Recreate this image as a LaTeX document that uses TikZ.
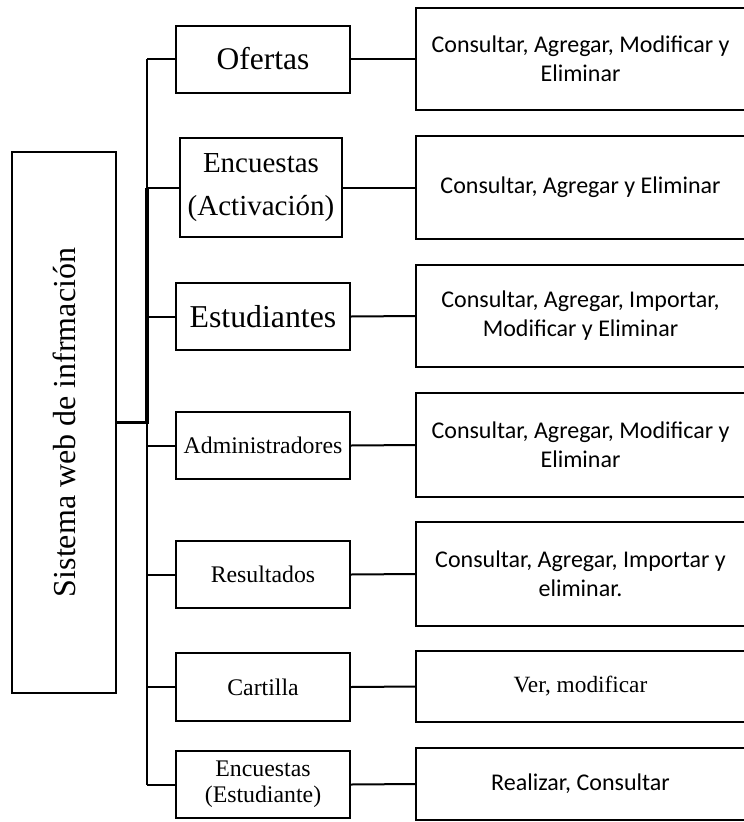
\documentclass[tikz,border=0pt]{standalone}
\usepackage{fontspec}
\setmainfont{Liberation Serif}
\newfontfamily\calibri{Carlito}
\usepackage{graphicx}
\usepackage{tikz}
\usetikzlibrary{calc}
\tikzstyle{raiz}    = [draw, line width=2pt, minimum width=104pt, minimum height=541pt, inner sep=0pt]
\tikzstyle{modulo}  = [draw, line width=2pt, minimum width=174pt, minimum height=67pt, inner sep=1pt, align=center, font=\fontsize{23.8}{26}\selectfont]
\tikzstyle{accion}  = [draw, line width=2pt, minimum width=329pt, minimum height=103pt, inner sep=1pt, align=center, font=\calibri\fontsize{24}{29}\selectfont]
\tikzstyle{linea}   = [line width=2pt]

\begin{document}
\begin{tikzpicture}[x=1pt,y=-1pt]
        \useasboundingbox (0,0) rectangle (744,822);

        \node[raiz] (sis) at (64,422.5) {\rotatebox{90}{\fontsize{32}{36}\selectfont Sistema web de infrmación}};

        \node[modulo, font=\fontsize{31.5}{34}\selectfont] (ofe) at (263,59) {Ofertas};
        \node[modulo, minimum width=162pt, minimum height=99pt, font=\fontsize{29}{43}\selectfont] (enca) at (261,187.5) {Encuestas\\(Activación)};
        \node[modulo, font=\fontsize{31.8}{34}\selectfont] (est) at (263,316.5) {Estudiantes};
        \node[modulo] (adm) at (263,445.5) {Administradores};
        \node[modulo] (res) at (263,574.5) {Resultados};
        \node[modulo, minimum height=68pt] (car) at (263,687) {Cartilla};
        \node[modulo] (ence) at (263,784.5) {Encuestas\\(Estudiante)};

        \node[accion, minimum height=102pt] (acc1) at (580.5,59) {Consultar, Agregar, Modificar y\\Eliminar};
        \node[accion] (acc2) at (580.5,187.5) {Consultar, Agregar y Eliminar};
        \node[accion, minimum height=102pt] (acc3) at (580.5,316) {Consultar, Agregar, Importar,\\Modificar y Eliminar};
        \node[accion, minimum height=104pt] (acc4) at (580.5,445) {Consultar, Agregar, Modificar y\\Eliminar};
        \node[accion, minimum height=104pt] (acc5) at (580.5,574) {Consultar, Agregar, Importar y\\eliminar.};
        \node[accion, minimum height=71pt, font=\fontsize{23.3}{27}\selectfont] (acc6) at (580.5,686.5) {Ver, modificar};
        \node[accion, minimum height=72pt] (acc7) at (580.5,784) {Realizar, Consultar};

        \coordinate (tronco) at (147,0);

        \draw[linea] (ofe.west -| tronco) -- (ence.west -| tronco);
        \foreach \m in {ofe,enca,est,adm,res,car,ence}
            \draw[linea] (\m.west) -- (\m.west -| tronco);
        \draw[linea, line width=3.5pt] (sis.east) -| (enca.west -| tronco);

        \draw[linea] (ofe.east) -- (acc1.west);
        \draw[linea] (enca.east) -- (acc2.west);
        \draw[linea] (est.east) -- (acc3.west);
        \draw[linea] (adm.east) -- (acc4.west);
        \draw[linea] (res.east) -- (acc5.west);
        \draw[linea] (car.east) -- (acc6.west);
        \draw[linea] (ence.east) -- (acc7.west);
    \end{tikzpicture}
\end{document}
